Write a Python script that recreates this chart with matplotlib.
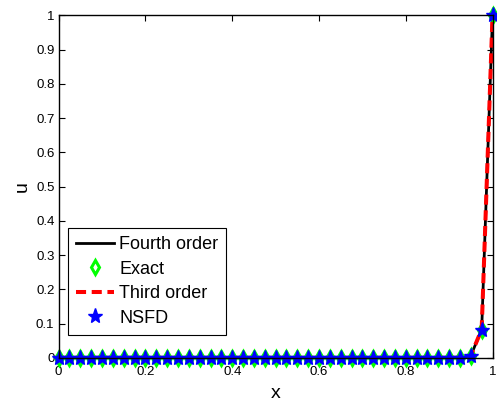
import numpy as np
import matplotlib
matplotlib.use("Agg")
from matplotlib import pyplot as plt

plt.rcParams['font.family'] = ['Liberation Sans', 'DejaVu Sans']

# grid points, h = 0.025
x = [0.0, 0.025, 0.05, 0.075, 0.1, 0.125, 0.15, 0.175, 0.2, 0.225,
     0.25, 0.275, 0.3, 0.325, 0.35, 0.375, 0.4, 0.425, 0.45, 0.475,
     0.5, 0.525, 0.55, 0.575, 0.6, 0.625, 0.65, 0.675, 0.7, 0.725,
     0.75, 0.775, 0.8, 0.825, 0.85, 0.875, 0.9, 0.925, 0.95, 0.975, 1.0]

# solution values: flat at zero, boundary layer near x = 1
u_exact = [0.0] * 36 + [0.00001, 0.00005, 0.0067, 0.082, 1.0]
u_fourth = [0.0] * 36 + [0.00001, 0.00005, 0.0067, 0.082, 1.0]
u_third = [0.0] * 36 + [0.00001, 0.00006, 0.0069, 0.083, 1.0]
u_nsfd = [0.0] * 36 + [0.00001, 0.00005, 0.0067, 0.082, 1.0]

fig = plt.figure(figsize=(4.97, 4.03), dpi=100)
ax = fig.add_axes([0.118, 0.112, 0.873, 0.850])

ax.plot(x, u_fourth, '-', color='k', lw=2, label='Fourth order')
ax.plot(x, u_exact, 'd', color='#00ff00', mfc='none', mec='#00ff00', mew=2.2,
        ms=7.5, clip_on=False, label='Exact')
ax.plot(x, u_third, '--', color='r', lw=2.9, dashes=(2.5, 1.4), label='Third order')
ax.plot(x, u_nsfd, '*', color='b', mfc='b', mec='b', mew=1.0, ms=11,
        clip_on=False, label='NSFD')

ax.set_xlim(0, 1)
ax.set_ylim(0, 1)
ax.set_xticks(np.arange(0, 1.01, 0.2))
ax.set_xticklabels(['0', '0.2', '0.4', '0.6', '0.8', '1'])
ax.set_yticks(np.arange(0, 1.01, 0.1))
ax.set_yticklabels(['0', '0.1', '0.2', '0.3', '0.4', '0.5', '0.6', '0.7',
                    '0.8', '0.9', '1'])
ax.tick_params(direction='in', top=True, right=True, length=4, width=0.8,
               labelsize=9.5)
ax.tick_params(axis='x', pad=6)
ax.tick_params(axis='y', pad=3)
for s in ax.spines.values():
    s.set_linewidth(1.0)

ax.set_xlabel('x', fontsize=14, labelpad=5)
ax.set_ylabel('u', fontsize=14, labelpad=4)

leg = ax.legend(loc='lower left', bbox_to_anchor=(0.021, 0.067), fontsize=13,
                frameon=True, fancybox=False, edgecolor='k', framealpha=1,
                handlelength=2.1, handletextpad=0.3, borderpad=0.45,
                labelspacing=0.42, borderaxespad=0)
leg.get_frame().set_linewidth(0.8)

fig.savefig('out.png', dpi=100)
